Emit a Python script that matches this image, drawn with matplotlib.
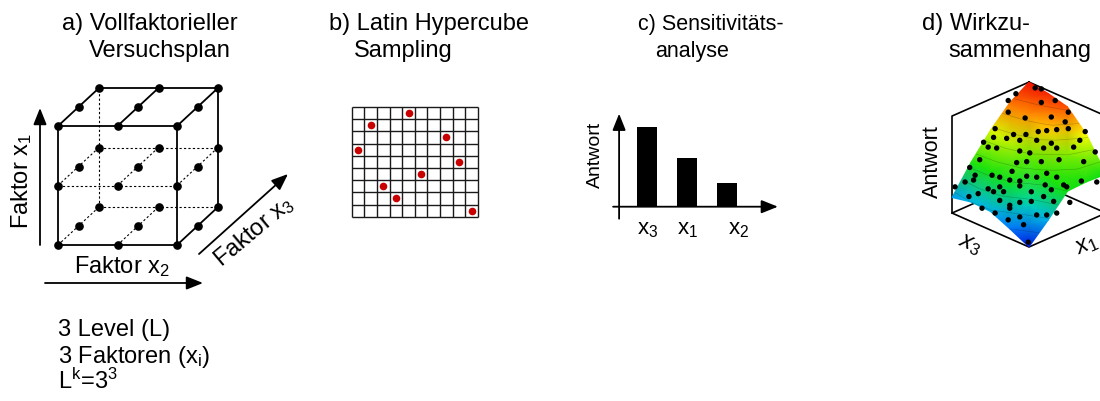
import numpy as np
import matplotlib.pyplot as plt
from matplotlib.colors import LinearSegmentedColormap

plt.rcParams['font.family'] = ['Liberation Sans', 'DejaVu Sans']
plt.rcParams['mathtext.fontset'] = 'custom'
plt.rcParams['mathtext.rm'] = 'Liberation Sans'
plt.rcParams['mathtext.it'] = 'Liberation Sans:italic'

W, H = 1100, 401

# ---- data ----
cube_levels = [0, 1, 2]                      # 3 level per factor

lhs_ncols, lhs_nrows = 10, 9
lhs_cols = [4, 1, 7, 0, 8, 5, 2, 3, 9]
lhs_rows = [0, 1, 2, 3, 4, 5, 6, 7, 8]

sens_labels = ['x$_3$', 'x$_1$', 'x$_2$']
sens_values = [0.80, 0.49, 0.24]

# response surface (rows: x3, cols: x1)
surf_x1 = [0.0, 0.25, 0.5, 0.75, 1.0]
surf_x3 = [0.0, 0.25, 0.5, 0.75, 1.0]
surf_antwort = [[0.00, 0.19, 0.40, 0.41, 0.40],
                [0.10, 0.27, 0.45, 0.60, 0.72],
                [0.19, 0.38, 0.58, 0.77, 0.92],
                [0.20, 0.43, 0.65, 0.84, 0.97],
                [0.16, 0.44, 0.68, 0.875, 1.00]]

# sample points as seen in the projected view (u across, v up)
dots_u = [-0.17, 0.08, 0.16, -0.27, 0.16, 0.34, -0.27, -0.05, 0.29, 0.51,
          0.47, 0.73, -0.44, -0.20, -0.04, 0.12, 0.23, 0.36, 0.51, -0.59,
          -0.46, -0.29, -0.12, 0.10, 0.29, 0.66, -0.53, -0.42, -0.12, 0.01,
          0.19, 0.36, 0.58, 0.86, -0.64, -0.77, -0.22, -0.16, -0.03, 0.16,
          0.39, 0.71, -0.70, -0.48, -0.38, -0.25, -0.12, -0.03, 0.10, 0.23,
          0.36, 0.45, -0.83, -0.72, -0.53, -0.38, -0.96, -0.66, -0.46, -0.33,
          -0.12, 0.03, 0.21, 0.29, 0.49, 0.68, -0.78, -0.38, -0.25, -0.12,
          0.03, 0.19, 0.32, 0.53, -0.61, -0.44, -0.25, -0.12, 0.10, 0.23,
          0.36, -0.07, -0.01, -0.27, 0.88]
dots_v = [1.58, 1.64, 1.63, 1.51, 1.49, 1.51, 1.39, 1.33, 1.34, 1.39,
          1.29, 1.19, 1.22, 1.16, 1.16, 1.19, 1.20, 1.21, 1.22, 1.08,
          1.13, 1.12, 1.10, 1.10, 1.07, 1.10, 1.03, 1.02, 0.99, 0.97,
          1.02, 1.02, 1.03, 0.98, 0.90, 0.82, 0.78, 0.87, 0.88, 0.88,
          0.90, 0.88, 0.74, 0.74, 0.72, 0.69, 0.68, 0.73, 0.72, 0.76,
          0.72, 0.64, 0.67, 0.69, 0.60, 0.62, 0.62, 0.55, 0.57, 0.57,
          0.63, 0.57, 0.64, 0.59, 0.62, 0.68, 0.52, 0.48, 0.43, 0.46,
          0.47, 0.52, 0.47, 0.46, 0.40, 0.35, 0.40, 0.31, 0.33, 0.33,
          0.35, 0.23, 0.05, 0.28, 0.67]

fig = plt.figure(figsize=(W / 100, H / 100), dpi=100)


def px_axes(left, top, width, height):
    a = fig.add_axes([left / W, 1 - (top + height) / H, width / W, height / H])
    a.axis('off')
    return a


ax = px_axes(0, 0, W, H)
ax.set_xlim(0, W)
ax.set_ylim(H, 0)

arrow = dict(arrowstyle='-|>,head_length=0.5,head_width=0.2', color='k',
             lw=1.3, mutation_scale=20, shrinkA=0, shrinkB=0)

# titles
fs = 17
ax.text(62, 30, 'a) Vollfaktorieller', fontsize=fs)
ax.text(89, 57, 'Versuchsplan', fontsize=fs)
ax.text(329, 30, 'b) Latin Hypercube', fontsize=fs)
ax.text(354, 57, 'Sampling', fontsize=fs)
ax.text(638, 30, 'c) Sensitivitäts-', fontsize=15.5)
ax.text(655, 57, 'analyse', fontsize=15.5)
ax.text(922, 30, 'd) Wirkzu-', fontsize=fs)
ax.text(948, 57, 'sammenhang', fontsize=fs)

# ---- a) full factorial cube ----
def cube_xy(i2, i1, i3):
    return 58 + 59.5 * i2 + 20.5 * i3, 245 - 59.5 * i1 - 19 * i3

lo, mid, hi = cube_levels
solid = [((lo, lo, lo), (hi, lo, lo)), ((hi, lo, lo), (hi, hi, lo)),
         ((hi, hi, lo), (lo, hi, lo)), ((lo, hi, lo), (lo, lo, lo)),
         ((lo, hi, hi), (hi, hi, hi)), ((hi, lo, hi), (hi, hi, hi)),
         ((hi, lo, lo), (hi, lo, hi))]
solid += [((l, hi, lo), (l, hi, hi)) for l in cube_levels]
dotted = [((lo, lo, hi), (lo, hi, hi)), ((lo, lo, hi), (hi, lo, hi)),
          ((lo, mid, lo), (hi, mid, lo)), ((lo, mid, hi), (hi, mid, hi))]
dotted += [((l, lo, lo), (l, lo, hi)) for l in (lo, mid)]
dotted += [((l, mid, lo), (l, mid, hi)) for l in cube_levels]

for p, q in solid:
    (x0, y0), (x1, y1) = cube_xy(*p), cube_xy(*q)
    ax.plot([x0, x1], [y0, y1], color='k', lw=1.3, solid_capstyle='round')
for p, q in dotted:
    (x0, y0), (x1, y1) = cube_xy(*p), cube_xy(*q)
    ax.plot([x0, x1], [y0, y1], color='k', lw=0.8, ls=(0, (2, 2)))

pts = [cube_xy(i2, i1, i3) for i2 in cube_levels for i1 in cube_levels for i3 in cube_levels]
ax.plot([p[0] for p in pts], [p[1] for p in pts], 'o', color='k', ms=5.2, zorder=5)

ax.annotate('', xy=(40, 108), xytext=(40, 245), arrowprops=arrow)
ax.annotate('', xy=(203, 283), xytext=(45, 283), arrowprops=arrow)
ax.annotate('', xy=(288, 174), xytext=(199, 254), arrowprops=arrow)
ax.text(22, 181, 'Faktor x$_1$', fontsize=fs, rotation=90, ha='center', va='center')
ax.text(74, 273, 'Faktor x$_2$', fontsize=fs, ha='left', va='baseline')
ax.text(254, 232, 'Faktor x$_3$', fontsize=fs, rotation=40, ha='center', va='center',
        rotation_mode='anchor')

ax.text(58, 336, '3 Level (L)', fontsize=fs)
ax.text(58, 363, '3 Faktoren (x$_\\mathrm{i}$)', fontsize=fs)
ax.text(58, 389, 'L$^\\mathrm{k}$=3$^3$', fontsize=fs)

# ---- b) latin hypercube ----
axb = px_axes(351.7, 107, 126.3, 109.7)
axb.set_xlim(0, lhs_ncols)
axb.set_ylim(lhs_nrows, 0)
axb.vlines(range(lhs_ncols + 1), 0, lhs_nrows, color='#1a1a1a', lw=1.0, clip_on=False)
axb.hlines(range(lhs_nrows + 1), 0, lhs_ncols, color='#1a1a1a', lw=1.0, clip_on=False)
axb.scatter(np.array(lhs_cols) + 0.5, np.array(lhs_rows) + 0.5, s=20,
            color='#c80000', zorder=3, clip_on=False)

# ---- c) sensitivity bars ----
axc = px_axes(586.7, 96.7, 220, 150)
axc.set_xlim(-0.5, 5)
axc.set_ylim(-0.4, 1.1)
pos = np.arange(1, len(sens_values) + 1)
axc.bar(pos, sens_values, width=0.5, color='k')
axc.annotate('', xy=(4.28, 0), xytext=(0.16, 0), arrowprops=arrow)
axc.annotate('', xy=(0.31, 0.93), xytext=(0.31, -0.12), arrowprops=arrow)
for p, lab, dx in zip(pos, sens_labels, [0.03, 0.03, 0.3]):
    axc.text(p + dx, -0.23, lab, fontsize=16, ha='center', va='center')
axc.text(-0.29, 0.52, 'Antwort', fontsize=14, rotation=90, ha='center', va='center')

# ---- d) response surface ----
axd = px_axes(1029 - 77 * 1.3, 247 - 97 * 1.9, 77 * 2.6, 97 * 2.3)
axd.set_xlim(-1.3, 1.3)
axd.set_ylim(-0.4, 1.9)


def proj(x1, x3, z):
    return np.subtract(x1, x3), 0.35 * np.add(x1, x3) + z


box = [(1, 1, 1), (0, 1, 1), (0, 1, 0), (0, 0, 0), (1, 0, 0), (1, 0, 1), (1, 1, 1)]
bu, bv = proj(*np.array(box).T)
axd.plot(bu, bv, color='k', lw=1.2, zorder=1, clip_on=False)
for c in [(0, 1, 0), (1, 0, 0), (1, 1, 1)]:
    u, v = proj(*np.array([(1, 1, 0), c]).T)
    axd.plot(u, v, color='k', lw=1.2, zorder=1, clip_on=False)

jet = LinearSegmentedColormap.from_list('surf', [
    (0.0, '#0010e0'), (0.1, '#0078ff'), (0.2, '#00b8e8'), (0.3, '#00dca0'),
    (0.4, '#10e010'), (0.55, '#40e800'), (0.65, '#c0f000'), (0.72, '#ffff00'),
    (0.82, '#ffa000'), (0.92, '#ff5000'), (1.0, '#f01000')])
X1, X3 = np.meshgrid(surf_x1, surf_x3)
Z = np.array(surf_antwort)
U, V = proj(X1, X3, Z)
axd.pcolormesh(U, V, Z, shading='gouraud', cmap=jet, vmin=0, vmax=1, zorder=2)
axd.contour(U, V, Z, levels=np.linspace(0.1, 0.9, 9), colors='k',
            linewidths=0.4, alpha=0.25, zorder=3)
axd.scatter(dots_u, dots_v, s=15, color='k', edgecolors='none', zorder=4, clip_on=False)
axd.text(-0.77, 0.02, '$x_3$', fontsize=17, rotation=-24, ha='center', va='center')
axd.text(0.75, 0.02, '$x_1$', fontsize=17, rotation=24, ha='center', va='center')
axd.text(-1.25, 0.88, 'Antwort', fontsize=15.5, rotation=90, ha='center', va='center')

fig.savefig('out.png', dpi=100)
